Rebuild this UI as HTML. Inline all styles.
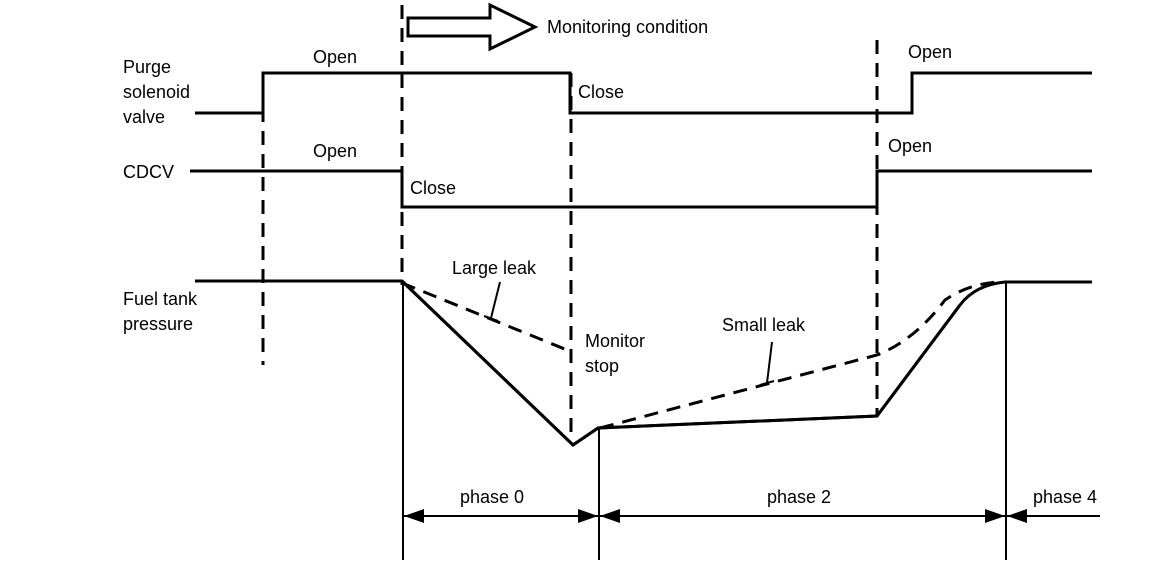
<!DOCTYPE html>
<html><head><style>body{margin:0;background:#fff}svg{display:block}text{font-family:"Liberation Sans",sans-serif;font-size:18px;fill:#000}</style></head><body>
<svg width="1152" height="578" viewBox="0 0 1152 578" xmlns="http://www.w3.org/2000/svg">
<g fill="none" stroke="#000" stroke-width="3">
<polyline points="195,113 263,113 263,73 570,73 570,113 912,113 912,73 1092,73"/>
<polyline points="190,171 402,171 402,207 877,207 877,171 1092,171"/>
<polyline points="195,281 402,281 573,445 598,428 877,416 960,305 Q975,285 1005,282 L1092,282" stroke-linejoin="round"/>
<path d="M195,281 L402,281 L573,445 L598,428 L877,416 L960,305 Q975,285 1005,282 L1092,282"/>
<g stroke-dasharray="14,9">
<line x1="263" y1="85" x2="263" y2="365"/>
<line x1="402" y1="5" x2="402" y2="285"/>
<line x1="571" y1="73" x2="571" y2="440"/>
<line x1="877" y1="40" x2="877" y2="415"/>
<line x1="402" y1="283" x2="572" y2="352"/>
<path d="M600,428 L877,355 Q915,340 945,300 Q970,283 1000,282"/>
</g>
<g stroke-width="2">
<line x1="500" y1="282" x2="491" y2="318"/><line x1="484" y1="316" x2="498" y2="321"/>
<line x1="772" y1="342" x2="767" y2="383"/><line x1="760" y1="385" x2="774" y2="381"/>
<line x1="403" y1="281" x2="403" y2="560"/>
<line x1="599" y1="428" x2="599" y2="560"/>
<line x1="1006" y1="282" x2="1006" y2="560"/>
<line x1="403" y1="516" x2="1100" y2="516"/>
</g>
<path d="M408,18 L490,18 L490,5 L535,27 L490,49 L490,36 L408,36 Z" stroke-width="3"/>
</g>
<g fill="#000">
<polygon points="404,516 424,509 424,523"/>
<polygon points="598,516 578,509 578,523"/>
<polygon points="600,516 620,509 620,523"/>
<polygon points="1005,516 985,509 985,523"/>
<polygon points="1007,516 1027,509 1027,523"/>
</g>
<text x="547" y="33">Monitoring condition</text>
<text x="123" y="73">Purge</text>
<text x="123" y="98">solenoid</text>
<text x="123" y="123">valve</text>
<text x="313" y="63">Open</text>
<text x="578" y="98">Close</text>
<text x="908" y="58">Open</text>
<text x="123" y="178">CDCV</text>
<text x="313" y="157">Open</text>
<text x="410" y="194">Close</text>
<text x="888" y="152">Open</text>
<text x="123" y="305">Fuel tank</text>
<text x="123" y="330">pressure</text>
<text x="452" y="274">Large leak</text>
<text x="585" y="347">Monitor</text>
<text x="585" y="372">stop</text>
<text x="722" y="331">Small leak</text>
<text x="460" y="503">phase 0</text>
<text x="767" y="503">phase 2</text>
<text x="1033" y="503">phase 4</text>
</svg>
</body></html>
